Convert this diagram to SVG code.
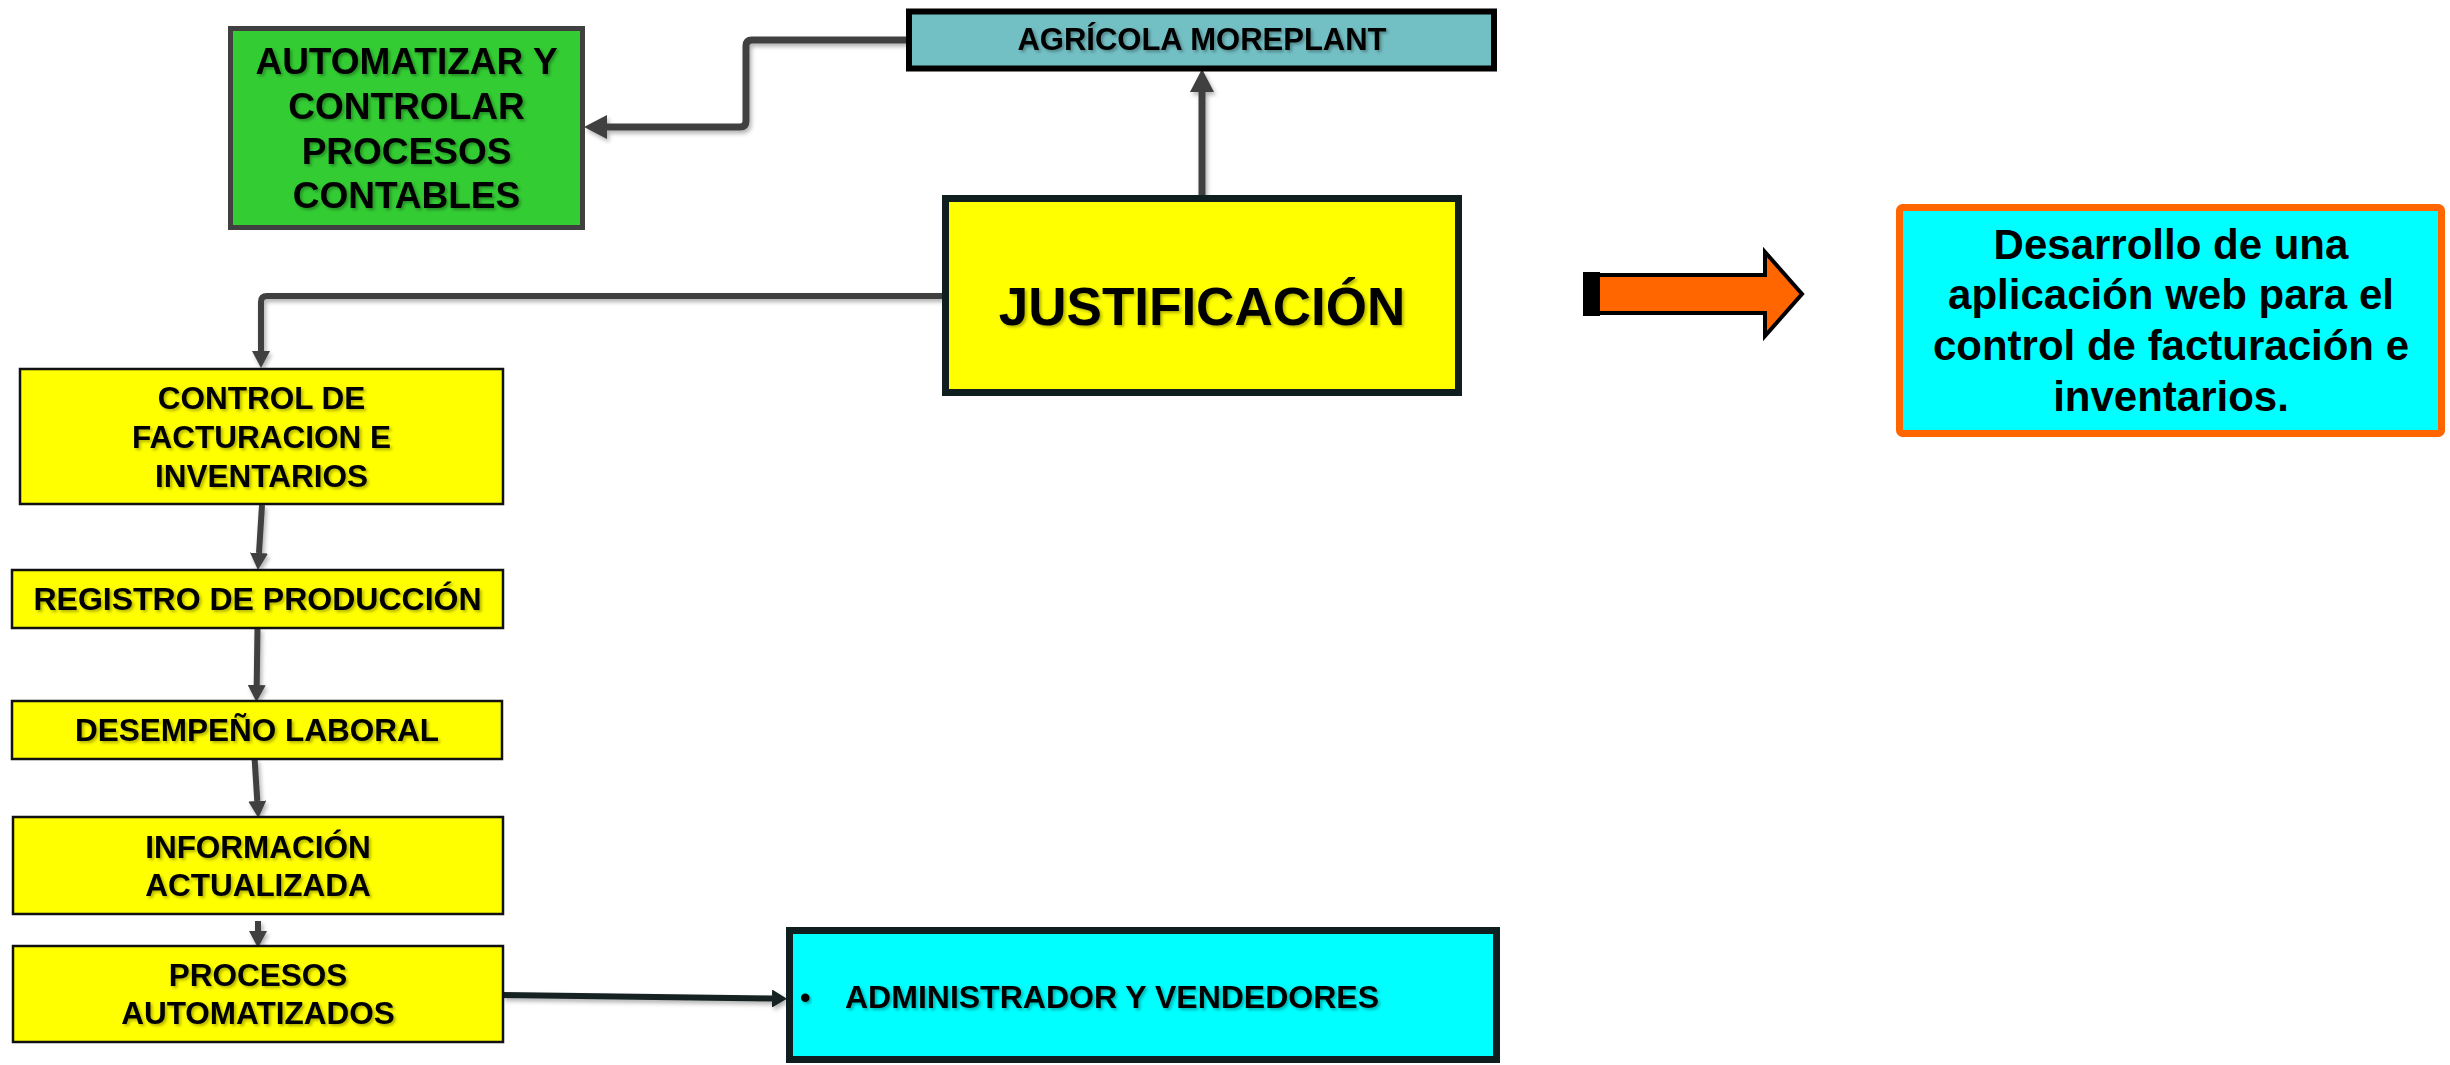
<svg xmlns="http://www.w3.org/2000/svg" width="2450" height="1065" viewBox="0 0 2450 1065">
  <defs>
    <style>
      text { font-family: "Liberation Sans", Arial, sans-serif; font-weight: bold; fill: #000; }
      .c { text-anchor: middle; }
      .box-y { fill: #ffff00; stroke: #111; stroke-width: 2.5; }
      .conn { fill: none; stroke: #404040; stroke-linejoin: round; }
      .ts { filter: url(#tsh); }
    </style>
    <filter id="tsh" x="-5%" y="-20%" width="110%" height="140%">
      <feDropShadow dx="2" dy="2" stdDeviation="1.5" flood-color="#000" flood-opacity="0.3"/>
    </filter>
    <filter id="lsh" x="-10%" y="-10%" width="120%" height="120%">
      <feDropShadow dx="2" dy="3" stdDeviation="2" flood-color="#000" flood-opacity="0.3"/>
    </filter>
    <marker id="aBig" markerUnits="userSpaceOnUse" viewBox="0 0 23 24" refX="0" refY="12" markerWidth="23" markerHeight="24" orient="auto">
      <path d="M0,0 L23,12 L0,24 Z" fill="#404040"/>
    </marker>
    <marker id="aSm" markerUnits="userSpaceOnUse" viewBox="0 0 17 18" refX="0" refY="9" markerWidth="17" markerHeight="18" orient="auto">
      <path d="M0,0 L17,9 L0,18 Z" fill="#404040"/>
    </marker>
    <marker id="aDark" markerUnits="userSpaceOnUse" viewBox="0 0 15 18" refX="0" refY="9" markerWidth="15" markerHeight="18" orient="auto">
      <path d="M0,0 L15,9 L0,18 Z" fill="#152020"/>
    </marker>
  </defs>

  <rect width="2450" height="1065" fill="#ffffff"/>

  <g id="connectors" filter="url(#lsh)">
    <path class="conn" stroke-width="7" d="M907,40 H752 Q746,40 746,46 V121 Q746,127 740,127 H607" marker-end="url(#aBig)"/>
    <path class="conn" stroke-width="7" d="M1202,198 V92" marker-end="url(#aBig)"/>
    <path class="conn" stroke-width="6" d="M942,296 H267 Q261,296 261,302 V351" marker-end="url(#aSm)"/>
    <path class="conn" stroke-width="6" d="M262,505 L259,553" marker-end="url(#aSm)"/>
    <path class="conn" stroke-width="6" d="M257.5,628 L256.7,685" marker-end="url(#aSm)"/>
    <path class="conn" stroke-width="6" d="M254.6,759 L257.3,801" marker-end="url(#aSm)"/>
    <path class="conn" stroke-width="6" d="M258,921 V931" marker-end="url(#aSm)"/>
    <path class="conn" stroke-width="6" d="M503,995 L772,998.5" marker-end="url(#aDark)" style="stroke:#152020"/>
  </g>

  <g id="node-automatizar">
    <rect x="230.5" y="28.5" width="352" height="199" fill="#33cc33" stroke="#404040" stroke-width="5"/>
    <g class="ts">
      <text class="c" x="406.5" y="74" font-size="37">AUTOMATIZAR Y</text>
      <text class="c" x="406.5" y="119" font-size="37">CONTROLAR</text>
      <text class="c" x="406.5" y="164" font-size="37">PROCESOS</text>
      <text class="c" x="406.5" y="208" font-size="37">CONTABLES</text>
    </g>
  </g>

  <g id="node-agricola">
    <rect x="909" y="11.5" width="585" height="57" fill="#72bfc4" stroke="#000" stroke-width="6"/>
    <text class="c ts" x="1202" y="50" font-size="31">AGRÍCOLA MOREPLANT</text>
  </g>

  <g id="node-justificacion">
    <rect x="945.5" y="198.5" width="513" height="194" fill="#ffff00" stroke="#0f1f1f" stroke-width="7"/>
    <text class="c ts" x="1202" y="325" font-size="53">JUSTIFICACIÓN</text>
  </g>

  <g id="node-control">
    <rect class="box-y" x="20" y="369" width="483" height="135"/>
    <g class="ts">
      <text class="c" x="261.5" y="409" font-size="31.5">CONTROL DE</text>
      <text class="c" x="261.5" y="448" font-size="31.5">FACTURACION E</text>
      <text class="c" x="261.5" y="487" font-size="31.5">INVENTARIOS</text>
    </g>
  </g>

  <g id="node-registro">
    <rect class="box-y" x="12" y="570" width="491" height="58"/>
    <text class="c ts" x="257.5" y="610" font-size="32">REGISTRO DE PRODUCCIÓN</text>
  </g>

  <g id="node-desempeno">
    <rect class="box-y" x="12" y="701" width="490" height="58"/>
    <text class="c ts" x="257" y="741" font-size="31.5">DESEMPEÑO LABORAL</text>
  </g>

  <g id="node-informacion">
    <rect class="box-y" x="13" y="817" width="490" height="97"/>
    <g class="ts">
      <text class="c" x="258" y="858" font-size="31.5">INFORMACIÓN</text>
      <text class="c" x="258" y="896" font-size="31.5">ACTUALIZADA</text>
    </g>
  </g>

  <g id="node-procesos">
    <rect class="box-y" x="13" y="946" width="490" height="96"/>
    <g class="ts">
      <text class="c" x="258" y="986" font-size="31.5">PROCESOS</text>
      <text class="c" x="258" y="1024" font-size="31.5">AUTOMATIZADOS</text>
    </g>
  </g>

  <g id="node-admin">
    <rect x="789.5" y="930.5" width="707" height="129" fill="#00ffff" stroke="#0f1f1f" stroke-width="7"/>
    <text class="ts" x="800" y="1008" font-size="30">•</text>
    <text class="ts" x="845" y="1008" font-size="32">ADMINISTRADOR Y VENDEDORES</text>
  </g>

  <g id="node-flecha">
    <rect x="1583" y="272" width="17" height="44" fill="#000"/>
    <polygon points="1598,275 1765,275 1765,252 1802,294 1765,336 1765,313 1598,313" fill="#ff6600" stroke="#000" stroke-width="4" stroke-linejoin="miter"/>
  </g>

  <g id="node-desarrollo">
    <rect x="1899.5" y="207.5" width="542" height="226" rx="3" fill="#00ffff" stroke="#ff6600" stroke-width="7"/>
    <text class="c" x="2171" y="259" font-size="42">Desarrollo de una</text>
    <text class="c" x="2171" y="309" font-size="42">aplicación web para el</text>
    <text class="c" x="2171" y="360" font-size="42">control de facturación e</text>
    <text class="c" x="2171" y="411" font-size="42">inventarios.</text>
  </g>
</svg>
